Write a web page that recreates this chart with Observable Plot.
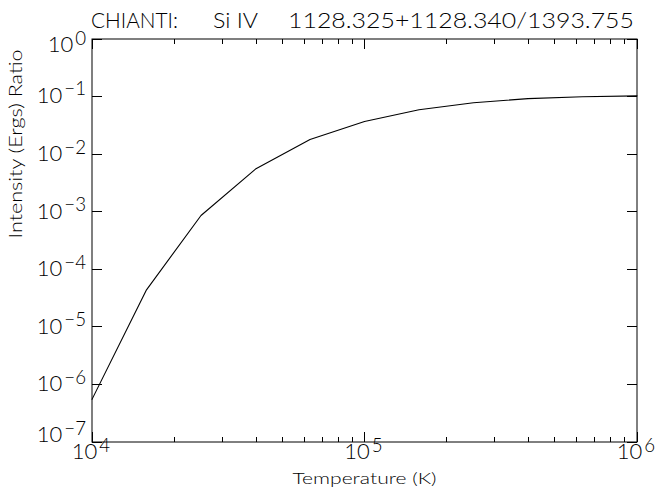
<!DOCTYPE html>
<html>
<head>
<meta charset="utf-8">
<script src="https://cdn.jsdelivr.net/npm/d3@7"></script>
<script src="https://cdn.jsdelivr.net/npm/@observablehq/plot@0.6"></script>
<style>
  html, body { margin: 0; padding: 0; background: #fff; }
  #chart svg { font-family: Lato, Roboto, "Liberation Sans", sans-serif; font-weight: 300; background: #fff; }
</style>
</head>
<body>
<div id="chart"></div>
<script>
// ---- data ----
const temperature = [1e4, 1.585e4, 2.512e4, 3.981e4, 6.31e4, 1e5, 1.585e5, 2.512e5, 3.981e5, 6.31e5, 1e6];
const ratio = [5.5e-7, 4.4e-5, 8.6e-4, 5.5e-3, 0.0179, 0.037, 0.059, 0.078, 0.092, 0.099, 0.103];

const yTicks = [1e-7, 1e-6, 1e-5, 1e-4, 1e-3, 1e-2, 1e-1, 1];
const yTickLabels = ["10^\u22127", "10^\u22126", "10^\u22125", "10^\u22124", "10^\u22123", "10^\u22122", "10^\u22121", "10^0"];
const xMajorTicks = [1e4, 1e5, 1e6];
const xTickLabels = ["10^4", "10^5", "10^6"];
const xMinorTicks = [2e4, 3e4, 4e4, 5e4, 6e4, 7e4, 8e4, 9e4, 2e5, 3e5, 4e5, 5e5, 6e5, 7e5, 8e5, 9e5];

const titleParts = ["CHIANTI:", "Si IV", "1128.325+1128.340/1393.755"];
const xLabel = "Temperature (K)";
const yLabel = "Intensity (Ergs) Ratio";

// ---- styling (not data) ----
const titleOffsets = [-1, 121, 196];
const titleLengths = [87, 45, 346];
const yLabelShift = [-7, 0, 0, 0, 0, 0, -1, 6]; // IDL keeps end labels inside the axis range

const table = temperature.map((t, i) => ({t, r: ratio[i]}));

const tickRight = {draw(c, l) { c.moveTo(0, 0); c.lineTo(l, 0); }};
const tickLeft  = {draw(c, l) { c.moveTo(0, 0); c.lineTo(-l, 0); }};
const tickUp    = {draw(c, l) { c.moveTo(0, 0); c.lineTo(0, -l); }};
const tickDown  = {draw(c, l) { c.moveTo(0, 0); c.lineTo(0, l); }};

const tickStyle = {stroke: "black", strokeWidth: 1, anchor: "start", shapeRendering: "crispEdges"};

const yLabelMarks = yTicks.map((v, i) => Plot.text([v], {
  y: d => d, frameAnchor: "left", textAnchor: "end", dx: -6, dy: yLabelShift[i],
  text: () => yTickLabels[i], fontSize: 22, fill: "black"
}));

const chart = Plot.plot({
  width: 663,
  height: 494,
  marginLeft: 91.5,
  marginRight: 26.5,
  marginTop: 38.5,
  marginBottom: 52.5,
  x: {type: "log", domain: [1e4, 1e6], axis: null},
  y: {type: "log", domain: [1e-7, 1], axis: null},
  marks: [
    Plot.line(table, {x: "t", y: "r", stroke: "black", strokeWidth: 1.1}),
    // inward ticks
    Plot.vectorY(yTicks, {frameAnchor: "left", length: 10, shape: tickRight, ...tickStyle}),
    Plot.vectorY(yTicks, {frameAnchor: "right", length: 10, shape: tickLeft, ...tickStyle}),
    Plot.vectorX(xMajorTicks, {frameAnchor: "bottom", length: 10, shape: tickUp, ...tickStyle}),
    Plot.vectorX(xMajorTicks, {frameAnchor: "top", length: 10, shape: tickDown, ...tickStyle}),
    Plot.vectorX(xMinorTicks, {frameAnchor: "bottom", length: 5, shape: tickUp, ...tickStyle}),
    Plot.vectorX(xMinorTicks, {frameAnchor: "top", length: 5, shape: tickDown, ...tickStyle}),
    Plot.frame({stroke: "black", strokeWidth: 1}),
    // tick labels
    ...yLabelMarks,
    Plot.text(xMajorTicks, {
      x: d => d, frameAnchor: "bottom", textAnchor: "middle", dx: -1, dy: 17,
      text: (d, i) => xTickLabels[i], fontSize: 22, fill: "black"
    }),
    // title
    ...titleParts.map((p, i) => Plot.text([p], {
      frameAnchor: "top-left", textAnchor: "start", lineAnchor: "bottom",
      dx: titleOffsets[i], dy: -11, text: d => d, fontSize: 22, fill: "black"
    })),
    // axis titles
    Plot.text([xLabel], {frameAnchor: "bottom", dy: 42, text: d => d, fontSize: 16.5, fill: "black"}),
    Plot.text([yLabel], {frameAnchor: "left", dx: -75, dy: -2, rotate: -90, text: d => d, fontSize: 17, fill: "black"})
  ]
});

// superscripts & text widths
d3.select(chart).selectAll("text").each(function() {
  const t = this.textContent;
  const m = /^10\^(.+)$/.exec(t);
  if (m) {
    const sel = d3.select(this);
    sel.text(null);
    sel.append("tspan").text("10");
    sel.append("tspan").attr("dx", "2").attr("dy", "-0.4em").attr("font-size", "0.85em").text(m[1]);
    return;
  }
  const k = titleParts.indexOf(t);
  if (k >= 0) {
    this.setAttribute("textLength", titleLengths[k]);
    this.setAttribute("lengthAdjust", "spacingAndGlyphs");
  }
  if (t === xLabel) { this.setAttribute("textLength", 144); this.setAttribute("lengthAdjust", "spacingAndGlyphs"); }
  if (t === yLabel) { this.setAttribute("textLength", 189); this.setAttribute("lengthAdjust", "spacingAndGlyphs"); }
});

document.getElementById("chart").appendChild(chart);
</script>
</body>
</html>
